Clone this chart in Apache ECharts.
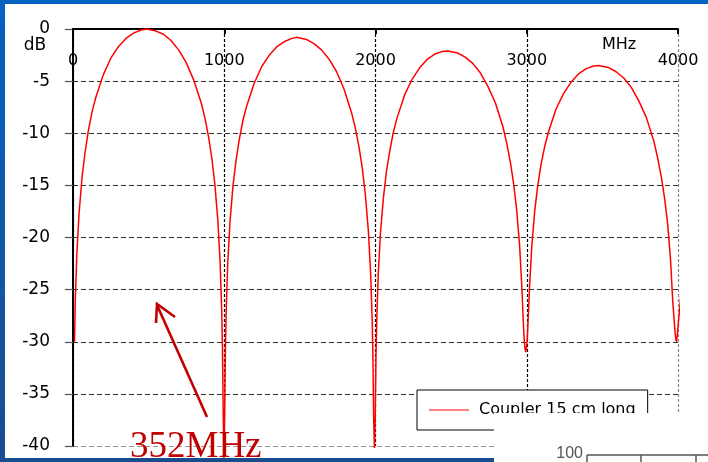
<!DOCTYPE html>
<html>
<head>
<meta charset="utf-8">
<script src="https://cdn.jsdelivr.net/npm/echarts@6/dist/echarts.min.js"></script>
<style>
html,body{margin:0;padding:0;background:#fff;}
#chart{width:708px;height:462px;}
</style>
</head>
<body>
<div id="chart"></div>
<script>
// Frequency (MHz) and coupling (dB)
var freqMHz = [
  10,15,25,40,60,80,100,125,150,200,250,300,350,400,450,490,548,598,648,698,748,798,848,873,898,918,938,958,973,983,988,993,998,
  1003,1008,1013,1023,1038,1058,1078,1098,1123,1148,1198,1248,1298,1348,1398,1448,1480,1543,1593,1643,1693,1743,1793,1843,1868,1893,1913,1933,1953,1968,1978,1983,1988,1993,
  1998,2003,2008,2018,2033,2053,2073,2093,2118,2143,2193,2243,2293,2343,2393,2443,2478,2543,2593,2643,2693,2743,2793,2843,2868,2893,2913,2933,2953,2968,2978,2983,2988,2993,
  2998,3003,3008,3018,3033,3053,3073,3093,3118,3143,3193,3243,3293,3343,3393,3443,3475,3541,3591,3641,3691,3741,3791,3841,3866,3891,3911,3931,3951,3966,3976,3981,3986,3991,
  4025
];
var couplingDb = [
  -30,-26.1,-21.7,-17.7,-14.2,-11.8,-9.9,-8.0,-6.6,-4.4,-2.8,-1.7,-0.9,-0.4,-0.1,0,-0.2,-0.5,-1.1,-2.0,-3.2,-4.9,-7.1,-8.6,-10.5,-12.4,-14.9,-18.4,-22.5,-26.9,-30.5,-36.5,-41.5,
  -36.5,-30.5,-26.9,-22.5,-18.5,-15.0,-12.6,-10.7,-8.8,-7.4,-5.2,-3.6,-2.5,-1.7,-1.2,-0.9,-0.8,-1.0,-1.4,-2.0,-2.9,-4.1,-5.8,-8.1,-9.6,-11.5,-13.4,-15.9,-19.4,-23.5,-27.9,-31.5,-37.5,-40.2,
  -37.5,-31.5,-28.0,-23.6,-19.5,-16.1,-13.6,-11.8,-9.9,-8.5,-6.3,-4.8,-3.7,-2.9,-2.4,-2.15,-2.1,-2.3,-2.7,-3.3,-4.2,-5.5,-7.1,-9.4,-11.0,-12.9,-14.8,-17.3,-20.8,-24.9,-28.3,-29.8,-30.6,-31,
  -30.6,-29.8,-28.3,-24.9,-20.9,-17.4,-15.0,-13.1,-11.3,-9.9,-7.7,-6.2,-5.1,-4.3,-3.8,-3.55,-3.5,-3.7,-4.1,-4.7,-5.6,-6.9,-8.5,-10.8,-12.4,-14.3,-16.2,-18.6,-22.2,-26.3,-28.2,-29.2,-29.8,-30,
  -24.5
];
var xTicks = [0, 1000, 2000, 3000, 4000];
var yTicks = [-40, -35, -30, -25, -20, -15, -10, -5, 0];
var seriesName = 'Coupler 15 cm long';
var annotation = '352MHz';

var seriesData = freqMHz.map(function (f, i) { return [f, couplingDb[i]]; });

var chart = echarts.init(document.getElementById('chart'));
chart.setOption({
  animation: false,
  backgroundColor: '#fff',
  grid: { left: 73, top: 29, width: 605, height: 417, containLabel: false },
  xAxis: {
    type: 'value', position: 'top',
    min: xTicks[0], max: xTicks[xTicks.length - 1], interval: 1000,
    axisLine: { show: true, onZero: false, lineStyle: { color: '#000', width: 2 } },
    axisTick: { show: true, inside: true, length: 5, lineStyle: { color: '#000', width: 2 } },
    axisLabel: { inside: true, margin: 24, color: '#000', fontSize: 16, fontFamily: 'DejaVu Sans',
      formatter: function (v) { return String(v); } },
    splitLine: { show: true, lineStyle: { color: ['#000', '#000', '#000', '#000', '#888'], type: [3, 2], width: 1.2 } }
  },
  yAxis: {
    type: 'value', min: yTicks[0], max: yTicks[yTicks.length - 1], interval: 5,
    axisLine: { show: true, onZero: false, lineStyle: { color: '#000', width: 2 } },
    axisTick: { show: true, length: 8, lineStyle: { color: '#555', width: 1.2 } },
    axisLabel: { margin: 23, color: '#000', fontSize: 17, fontFamily: 'DejaVu Sans',
      formatter: function (v) { return String(v); } },
    splitLine: { show: true, lineStyle: { color: ['#999', '#333', '#333', '#333', '#333', '#333', '#333', '#333', '#333'], type: [5, 3], width: 1.2 } }
  },
  legend: {
    left: 417, top: 390,
    backgroundColor: '#fff', borderColor: '#000', borderWidth: 1, borderRadius: 0,
    padding: [12, 12, 12, 12],
    itemWidth: 40, itemHeight: 2,
    textStyle: { fontSize: 16, fontFamily: 'DejaVu Sans', color: '#000', padding: [0, 0, 0, 5] },
    data: [{ name: seriesName, icon: 'rect', itemStyle: { color: '#FF8080' } }]
  },
  series: [{
    name: seriesName, type: 'line', data: seriesData,
    showSymbol: false, clip: false, smooth: false,
    lineStyle: { color: '#FF0000', width: 1.5 }, itemStyle: { color: '#FF0000' }
  }],
  graphic: [
    { type: 'text', z: 50, style: { text: 'dB', x: 35, y: 46, align: 'center', verticalAlign: 'middle', font: '17px "DejaVu Sans"', fill: '#000' } },
    { type: 'text', z: 50, style: { text: 'MHz', x: 619, y: 45, align: 'center', verticalAlign: 'middle', font: '16px "DejaVu Sans"', fill: '#000' } },
    { type: 'line', z: 50, shape: { x1: 207, y1: 417, x2: 157, y2: 305 }, style: { stroke: '#C00000', lineWidth: 2.6 } },
    { type: 'polyline', z: 50, shape: { points: [[156, 323], [157, 304], [175, 317]] }, style: { stroke: '#C00000', lineWidth: 2.6, fill: null } },
    { type: 'text', z: 50, style: { text: annotation, x: 130, y: 447, align: 'left', verticalAlign: 'middle', font: '37px "Liberation Serif"', fill: '#C00000' } },
    { type: 'rect', z: 100, shape: { x: 494, y: 413, width: 214, height: 49 }, style: { fill: '#fff' } },
    { type: 'text', z: 101, style: { text: '100', x: 583, y: 454, align: 'right', verticalAlign: 'middle', font: '16px "Liberation Sans Narrow", "Liberation Sans"', fill: '#555' } },
    { type: 'line', z: 101, shape: { x1: 587, y1: 455, x2: 708, y2: 455 }, style: { stroke: '#555', lineWidth: 1.5 } },
    { type: 'line', z: 101, shape: { x1: 587, y1: 455, x2: 587, y2: 462 }, style: { stroke: '#555', lineWidth: 1.5 } },
    { type: 'line', z: 101, shape: { x1: 641, y1: 455, x2: 641, y2: 462 }, style: { stroke: '#555', lineWidth: 1.5 } },
    { type: 'line', z: 101, shape: { x1: 696, y1: 455, x2: 696, y2: 462 }, style: { stroke: '#555', lineWidth: 1.5 } },
    { type: 'rect', z: 102, shape: { x: 0, y: 0, width: 708, height: 4 }, style: { fill: '#0563C1' } },
    { type: 'rect', z: 102, shape: { x: 0, y: 0, width: 5, height: 462 }, style: { fill: new echarts.graphic.LinearGradient(0, 0, 0, 1, [{ offset: 0, color: '#0563C1' }, { offset: 1, color: '#1A4D8F' }]) } },
    { type: 'rect', z: 102, shape: { x: 0, y: 458, width: 494, height: 4 }, style: { fill: '#174C8E' } }
  ]
});
</script>
</body>
</html>
